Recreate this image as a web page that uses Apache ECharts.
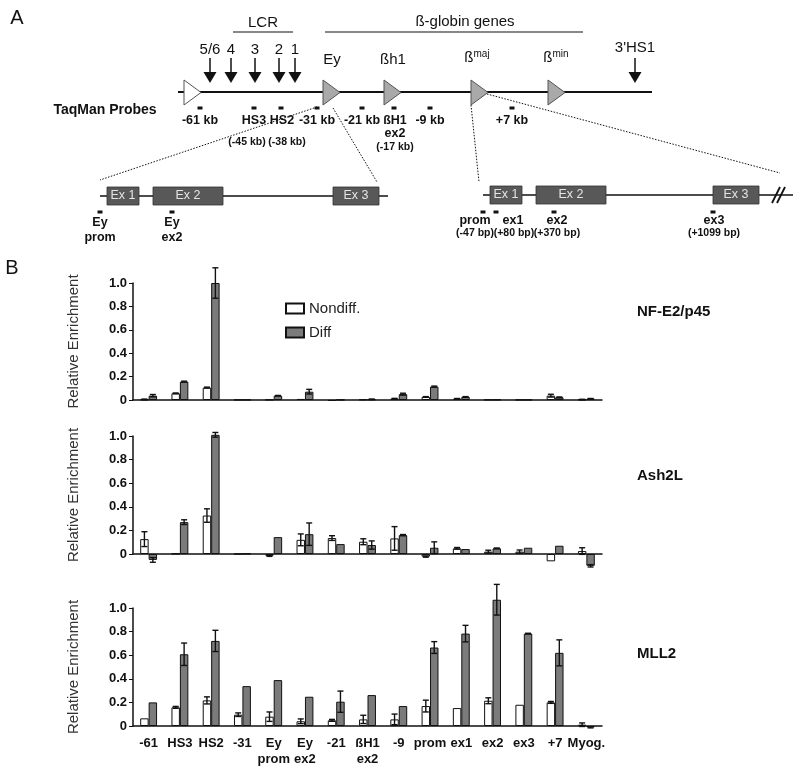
<!DOCTYPE html>
<html>
<head>
  <meta charset="utf-8">
  <title>ChIP enrichment at the β-globin locus</title>
  <script src="https://cdn.jsdelivr.net/npm/echarts@6/dist/echarts.min.js"></script>
</head>
<style>
  html,
  body {
    margin: 0;
    padding: 0;
    background: #fff;
  }
</style>

<body>
  <div id="chart" style="width: 800px; height: 768px;"></div>

  <script>
    // ---- panel B data ----
    const categories = ['-61', 'HS3', 'HS2', '-31', 'Ey\nprom', 'Ey\nex2', '-21', 'ßH1\nex2', '-9',
      'prom', 'ex1', 'ex2', 'ex3', '+7', 'Myog.'];
    const yTicks = [0, 0.2, 0.4, 0.6, 0.8, 1.0];
    const panelNames = ['NF-E2/p45', 'Ash2L', 'MLL2'];

    const nfNondiff = [0.005, 0.057, 0.106, 0.002, 0.003, 0.009, -0.008, 0.004, 0.011, 0.026, 0.011, 0.003, 0.002, 0.037, 0.004];
    const nfNondiffErr = [0.003, 0.003, 0.004, 0, 0, 0, 0, 0, 0.003, 0.003, 0.002, 0, 0, 0.012, 0.002];
    const nfDiff = [0.037, 0.157, 1.0, 0.002, 0.037, 0.071, 0.002, 0.006, 0.05, 0.114, 0.026, 0.003, 0.002, 0.023, 0.011];
    const nfDiffErr = [0.01, 0.004, 0.13, 0, 0.002, 0.02, 0, 0.002, 0.008, 0.005, 0.003, 0, 0, 0.003, 0.002];

    const ashNondiff = [0.126, 0.003, 0.326, 0, -0.015, 0.12, 0.135, 0.104, 0.132, -0.022, 0.048, 0.02, 0.02, -0.062, 0.025];
    const ashNondiffErr = [0.063, 0, 0.057, 0, 0.005, 0.05, 0.02, 0.025, 0.1, 0.005, 0.007, 0.012, 0.014, 0, 0.028];
    const ashDiff = [-0.05, 0.27, 1.01, 0.003, 0.143, 0.168, 0.084, 0.076, 0.16, 0.053, 0.042, 0.048, 0.053, 0.07, -0.1];
    const ashDiffErr = [0.02, 0.02, 0.02, 0, 0, 0.095, 0, 0.035, 0.005, 0.05, 0, 0.003, 0, 0, 0.01];

    const mllNondiff = [0.065, 0.158, 0.217, 0.096, 0.079, 0.04, 0.048, 0.056, 0.056, 0.169, 0.152, 0.214, 0.18, 0.2, 0.011];
    const mllNondiffErr = [0, 0.008, 0.03, 0.015, 0.04, 0.02, 0.008, 0.035, 0.045, 0.05, 0, 0.025, 0, 0.008, 0.015];
    const mllDiff = [0.2, 0.608, 0.721, 0.338, 0.389, 0.248, 0.206, 0.262, 0.169, 0.665, 0.783, 1.07, 0.783, 0.62, -0.011];
    const mllDiffErr = [0, 0.095, 0.09, 0, 0, 0, 0.09, 0, 0, 0.05, 0.07, 0.13, 0.003, 0.11, 0.005];

    // ---- panel A schematic (diagram units = pixels) ----
    // x1, y1, x2, y2, width, dotted
    const schemaLines = [
      [178, 92, 652, 92, 2, 0],
      [233, 32, 293, 32, 1.2, 0],
      [325, 32, 583, 32, 1.2, 0],
      [100, 196, 388, 196, 1.5, 0],
      [483, 195, 793, 195, 1.5, 0],
      [317, 107, 100, 180, 1, 1],
      [333, 108, 377, 182, 1, 1],
      [471, 105, 479, 182, 1, 1],
      [487, 94, 780, 173, 1, 1],
      [772, 203, 780, 187, 1.8, 0],
      [777, 203, 785, 187, 1.8, 0]
    ];
    // label, x, labelY
    const hsArrows = [['5/6', 210, 50], ['4', 231, 50], ['3', 255, 50], ['2', 279, 50], ['1', 295, 50], ["3'HS1", 635, 48]];
    // x, fill
    const geneTriangles = [[184, '#ffffff'], [323, '#a9a9a9'], [384, '#a9a9a9'], [471, '#a9a9a9'], [548, '#a9a9a9']];
    // x1, x2, y, label
    const exons = [[107, 139, 196, 'Ex 1'], [153, 223, 196, 'Ex 2'], [333, 379, 196, 'Ex 3'],
      [490, 522, 195, 'Ex 1'], [536, 606, 195, 'Ex 2'], [713, 759, 195, 'Ex 3']];
    const probeMarks = [[200, 108], [254, 108], [281, 108], [317, 108], [362, 108], [394, 108], [430, 108], [512, 108],
      [100, 212], [172, 212], [483, 212], [496, 212], [554, 212], [713, 212]];
    // text, x, y, kind
    const schemaTexts = [
      ['A', 17, 18, 'panel'], ['B', 12, 268, 'panel'],
      ['LCR', 263, 23, 'plain'], ['ß-globin genes', 465, 22, 'plain'],
      ['{a|Ey}', 332, 60, 'plain'], ['{a|ßh1}', 393, 60, 'plain'],
      ['{a|ß}{s|maj}', 477, 58, 'plain'], ['{a|ß}{s|min}', 556, 58, 'plain'],
      ['TaqMan Probes', 105, 110, 'head'],
      ['-61 kb', 200, 121, 'bold'], ['HS3', 254, 121, 'bold'], ['HS2', 282, 121, 'bold'], ['-31 kb', 317, 121, 'bold'],
      ['-21 kb', 362, 121, 'bold'], ['ßH1', 395, 121, 'bold'], ['-9 kb', 430, 121, 'bold'], ['+7 kb', 512, 121, 'bold'],
      ['(-45 kb)', 247, 142, 'small'], ['(-38 kb)', 287, 142, 'small'], ['ex2', 395, 134, 'bold'], ['(-17 kb)', 395, 147, 'small'],
      ['Ey', 100, 223, 'bold'], ['prom', 100, 238, 'bold'], ['Ey', 172, 223, 'bold'], ['ex2', 172, 238, 'bold'],
      ['prom', 475, 221, 'bold'], ['ex1', 513, 221, 'bold'], ['ex2', 557, 221, 'bold'], ['ex3', 714, 221, 'bold'],
      ['(-47 bp)', 475, 233, 'small'], ['(+80 bp)', 514, 233, 'small'], ['(+370 bp)', 557, 233, 'small'], ['(+1099 bp)', 714, 233, 'small']
    ];

    const FONT = 'Liberation Sans, Arial, Helvetica, sans-serif';
    const textKinds = {
      panel: { fontSize: 20, fontWeight: 'normal' },
      plain: { fontSize: 15, fontWeight: 'normal' },
      head: { fontSize: 14, fontWeight: 'bold' },
      bold: { fontSize: 12.5, fontWeight: 'bold' },
      small: { fontSize: 10.5, fontWeight: 'bold' }
    };

    const chart = echarts.init(document.getElementById('chart'));
    const CAT_GAP = 0.46;
    const panelTops = [283, 436, 608];
    const panelHeights = [117, 118, 118];
    const panelTitleY = [304, 468, 646];
    const panelData = [
      [nfNondiff, nfNondiffErr, nfDiff, nfDiffErr],
      [ashNondiff, ashNondiffErr, ashDiff, ashDiffErr],
      [mllNondiff, mllNondiffErr, mllDiff, mllDiffErr]
    ];

    const grids = [], xAxes = [], yAxes = [], series = [], titles = [];

    panelData.forEach((d, i) => {
      grids.push({ left: 133, top: panelTops[i], width: 469, height: panelHeights[i] });
      xAxes.push({
        type: 'category', gridIndex: i, data: categories,
        axisLine: { lineStyle: { color: '#111', width: 1.5 } },
        axisTick: { length: 3, interval: 0, lineStyle: { color: '#111' } },
        axisLabel: {
          show: i === 2, interval: 0, margin: 9, color: '#111', fontFamily: FONT,
          fontWeight: 'bold', fontSize: 13, lineHeight: 16
        }
      });
      yAxes.push({
        type: 'value', gridIndex: i, min: 0, max: 1, interval: 0.2,
        name: 'Relative Enrichment', nameLocation: 'middle', nameGap: 52,
        nameTextStyle: { fontSize: 15, color: '#333', fontFamily: FONT },
        splitLine: { show: false },
        axisLine: { show: true, lineStyle: { color: '#111', width: 1.5 } },
        axisTick: { show: true, length: 4, lineStyle: { color: '#111' } },
        axisLabel: {
          margin: 6, color: '#111', fontFamily: FONT, fontWeight: 'bold', fontSize: 13,
          formatter: v => (yTicks.indexOf(v) === 0 ? '0' : v.toFixed(1))
        }
      });
      series.push({
        name: 'Nondiff.', type: 'bar', xAxisIndex: i, yAxisIndex: i, data: d[0], clip: false,
        barGap: '0%', barCategoryGap: (CAT_GAP * 100) + '%',
        itemStyle: { color: '#ffffff', borderColor: '#111', borderWidth: 1 }
      });
      series.push({
        name: 'Diff', type: 'bar', xAxisIndex: i, yAxisIndex: i, data: d[2], clip: false,
        barGap: '0%', barCategoryGap: (CAT_GAP * 100) + '%',
        itemStyle: { color: '#7b7b7b', borderColor: '#111', borderWidth: 1 }
      });
      [[d[0], d[1], -1], [d[2], d[3], 1]].forEach(([vals, errs, side]) => {
        series.push({
          type: 'custom', xAxisIndex: i, yAxisIndex: i, clip: false, silent: true, z: 5,
          data: vals.map((v, j) => [j, v, errs[j]]),
          renderItem: (params, api) => {
            const e = api.value(2);
            if (!e) return null;
            const j = api.value(0), v = api.value(1);
            const band = api.size([1, 0])[0];
            const bw = band * (1 - CAT_GAP) / 2;
            const top = api.coord([j, v + e]);
            const bot = api.coord([j, v - e]);
            const x = top[0] + side * bw / 2;
            const cap = 3;
            const st = { stroke: '#111', lineWidth: 1.4 };
            return {
              type: 'group', children: [
                { type: 'line', shape: { x1: x, y1: top[1], x2: x, y2: bot[1] }, style: st },
                { type: 'line', shape: { x1: x - cap, y1: top[1], x2: x + cap, y2: top[1] }, style: st },
                { type: 'line', shape: { x1: x - cap, y1: bot[1], x2: x + cap, y2: bot[1] }, style: st }
              ]
            };
          }
        });
      });
      titles.push({
        text: panelNames[i], left: 637, top: panelTitleY[i], padding: 0,
        textStyle: { fontSize: 15, fontWeight: 'bold', color: '#111', fontFamily: FONT }
      });
    });

    // hidden pixel-unit grid for the schematic of panel A
    const S = panelData.length;
    grids.push({ left: 0, top: 0, width: 800, height: 768 });
    xAxes.push({ type: 'value', gridIndex: S, min: 0, max: 800, show: false });
    yAxes.push({ type: 'value', gridIndex: S, min: 0, max: 768, inverse: true, show: false });
    const onSchema = { type: 'custom', xAxisIndex: S, yAxisIndex: S, silent: true, clip: false };

    series.push(Object.assign({}, onSchema, {
      data: schemaLines.map(l => [l[0], l[1]]),
      renderItem: (params, api) => {
        const l = schemaLines[params.dataIndex];
        const p1 = api.coord([l[0], l[1]]), p2 = api.coord([l[2], l[3]]);
        return {
          type: 'line', shape: { x1: p1[0], y1: p1[1], x2: p2[0], y2: p2[1] },
          style: { stroke: '#111', lineWidth: l[4], lineDash: l[5] ? [1.5, 1.5] : null }
        };
      }
    }));
    series.push(Object.assign({}, onSchema, {
      data: hsArrows.map(a => [a[1], a[2]]),
      renderItem: (params, api) => {
        const a = hsArrows[params.dataIndex];
        const lab = api.coord([a[1], a[2]]);
        const s0 = api.coord([a[1], 58]), h0 = api.coord([a[1], 72]), h1 = api.coord([a[1], 83]);
        return {
          type: 'group', children: [
            { type: 'line', shape: { x1: s0[0], y1: s0[1], x2: h0[0], y2: h0[1] }, style: { stroke: '#111', lineWidth: 1.5 } },
            { type: 'polygon', shape: { points: [[h0[0] - 6.5, h0[1]], [h0[0] + 6.5, h0[1]], [h1[0], h1[1]]] }, style: { fill: '#111' } },
            {
              type: 'text', x: lab[0], y: lab[1],
              style: { text: a[0], fontSize: 15, fontFamily: FONT, fill: '#111', align: 'center', verticalAlign: 'middle' }
            }
          ]
        };
      }
    }));
    series.push(Object.assign({}, onSchema, {
      data: geneTriangles.map(t => [t[0], 92]),
      z: 3,
      renderItem: (params, api) => {
        const t = geneTriangles[params.dataIndex];
        const a = api.coord([t[0], 80]), b = api.coord([t[0], 105]), c = api.coord([t[0] + 17, 92.5]);
        return {
          type: 'polygon', shape: { points: [a, b, c] },
          style: { fill: t[1], stroke: '#555', lineWidth: 1 }
        };
      }
    }));
    series.push(Object.assign({}, onSchema, {
      data: exons.map(e => [e[0], e[2]]),
      z: 3,
      renderItem: (params, api) => {
        const e = exons[params.dataIndex];
        const p1 = api.coord([e[0], e[2] - 9]), p2 = api.coord([e[1], e[2] + 9]);
        return {
          type: 'group', children: [
            { type: 'rect', shape: { x: p1[0], y: p1[1], width: p2[0] - p1[0], height: p2[1] - p1[1] }, style: { fill: '#585858', stroke: '#333', lineWidth: 0.8 } },
            {
              type: 'text', x: (p1[0] + p2[0]) / 2, y: (p1[1] + p2[1]) / 2,
              style: { text: e[3], fontSize: 12.5, fontFamily: FONT, fill: '#e4e4e4', align: 'center', verticalAlign: 'middle' }
            }
          ]
        };
      }
    }));
    series.push(Object.assign({}, onSchema, {
      data: probeMarks,
      renderItem: (params, api) => {
        const p = api.coord([api.value(0), api.value(1)]);
        return { type: 'rect', shape: { x: p[0] - 2.5, y: p[1] - 1.5, width: 5, height: 3 }, style: { fill: '#111' } };
      }
    }));
    series.push(Object.assign({}, onSchema, {
      data: schemaTexts.map(t => [t[1], t[2]]),
      renderItem: (params, api) => {
        const t = schemaTexts[params.dataIndex];
        const k = textKinds[t[3]];
        const p = api.coord([t[1], t[2]]);
        return {
          type: 'text', x: p[0], y: p[1],
          style: {
            text: t[0], fontSize: k.fontSize, fontWeight: k.fontWeight, fontFamily: FONT, fill: '#111',
            align: 'center', verticalAlign: 'middle',
            rich: {
              a: { fontSize: 15, fontFamily: FONT, fill: '#111' },
              s: { fontSize: 10, fontFamily: FONT, fill: '#111', padding: [0, 0, 8, 0] }
            }
          }
        };
      }
    }));

    chart.setOption({
      animation: false,
      backgroundColor: '#ffffff',
      textStyle: { fontFamily: FONT },
      title: titles,
      legend: {
        orient: 'vertical', left: 280, top: 296, itemWidth: 18, itemHeight: 10, itemGap: 9,
        data: ['Nondiff.', 'Diff'], icon: 'rect', selectedMode: false,
        textStyle: { fontSize: 15, color: '#222', fontFamily: FONT }
      },
      grid: grids,
      xAxis: xAxes,
      yAxis: yAxes,
      series: series
    });
  </script>
</body>
</html>
